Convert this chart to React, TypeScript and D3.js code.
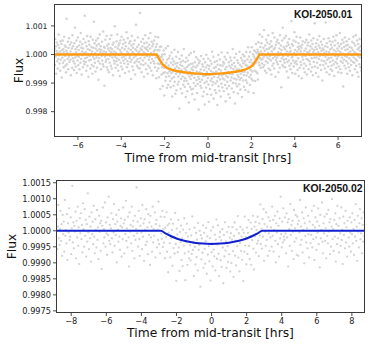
import React from 'react';
import * as d3 from 'd3';

// KOI-2050.01 : transit model (hrs, flux) and residuals of the points (units of 2.6e-5)
const topModelT = [-7.08, -2.38, -2.3, -2.2, -2.1, -2.0, -1.8, -1.5, -1.0, -0.5, 0, 0.5, 1.0, 1.5, 1.8, 2.0, 2.1, 2.2, 2.3, 2.38, 7.08];
const topModelF = [1.0, 1.0, 0.9999, 0.99978, 0.99966, 0.99959, 0.9995, 0.99943, 0.99937, 0.99933, 0.99931, 0.99933, 0.99937, 0.99943, 0.9995, 0.99959, 0.99966, 0.99978, 0.9999, 1.0, 1.0];
const topXTicks = [-6, -4, -2, 0, 2, 4, 6];
const topYTicks = [0.998, 0.999, 1.0, 1.001];
const topResid = [
  8, -14, 21, -3, 11, -26, 5, 16, -9, 2, -19, 13, -6, 27, -1, 9, -12, 4, -22, 18, -7, 1, 14, -31, 6,
  -4, 19, -11, 7, -17, 3, 24, -8, 12, -2, -15, 10, -24, 5, 48, -13, 2, -6, 17, -20, 9, -3, 22, -10, 0,
  13, -7, 4, -28, 16, -1, 8, -18, 26, -5, 11, -9, 1, -21, 15, -12, 36, -4, 7, -16, 3, 19, -25, 10, -2,
  -8, 23, -14, 6, -3, 12, -20, 1, 17, -11, 29, -6, 9, -27, 4, 14, -1, -17, 8, 21, -9, 2, -13, 52, -5,
  16, -10, 3, -22, 11, -4, 25, -15, 7, 0, -30, 18, -8, 13, -2, 6, -19, 24, -7, 1, 10, -14, 4, -26, 20,
  -3, 9, -16, 44, -6, 15, -11, 2, -23, 8, 19, -4, 12, -18, 5, -1, 22, -9, -34, 14, -5, 7, 27, -12, 3,
  11, -20, 6, -2, 17, -8, 1, -13, 31, -16, 4, 10, -42, 9, -3, 20, -10, 3, -7, 25, -17, 12, -1, -21, 8,
  -6, 14, -24, 5, -11, 21, -2, 9, -15, 3, 26, -19, 7, -4, 13, -28, 1, 16, -8, 4, -12, 38, -3, 10, -18,
  2, -9, 18, -5, 27, -14, 8, -22, 12, -1, -7, 15, -29, 6, 19, -11, 3, -16, 24, -4, 9, -20, 1, 14, -8,
  20, -3, -12, 7, -25, 16, -6, 11, -1, 30, -17, 4, -9, 22, -13, 2, 8, -23, 15, -5, -2, 18, -10, 6, -33,
  12, -7, 25, -16, 3, 9, -21, 14, -4, 1, -11, 19, -27, 7, -2, 40, -9, 5, -15, 10, -6, 23, -18, 2, 13,
  -10, 4, -19, 56, -5, 8, -13, 17, -24, 6, -1, 11, -8, 21, -14, 3, -30, 15, -4, 9, 26, -12, 1, -20, 7,
  16, -2, 10, -26, 5, -15, 22, -7, 13, -3, -18, 8, 29, -11, 2, -22, 17, -6, 11, -1, -28, 14, -9, 4, 19,
  -12, 6, -17, 24, -4, 10, -32, 1, 15, -20, 8, -9, 27, -14, 3, -25, 12, -6, 18, -38, 5, -2, 21, -16, 9,
  -5, 13, -29, 7, -11, 20, -3, -40, 16, -8, 2, -19, 25, -13, 6, -1, -27, 11, -7, 30, -22, 4, 14, -10, -3,
  18, -16, 1, -24, 9, -5, 23, -12, -36, 15, -2, 7, -21, 12, -9, 28, -15, 3, -31, 10, -4, 19, -26, 6, -1,
  11, -18, 26, -7, -14, 4, -50, 17, -3, 9, -23, 13, -10, 2, 22, -29, 8, -6, 15, -17, -1, 31, -12, 5, -20,
  -8, 14, -33, 3, 20, -11, 7, -25, -2, 16, -15, 10, -40, 24, -5, 1, -19, 12, -8, 27, -22, 6, -3, -28, 13,
  4, -21, 9, -13, 29, -6, -35, 15, -1, -17, 8, 22, -9, 3, -26, 11, -14, 19, -4, -48, 14, -7, 2, 17, -11,
  -16, 6, 24, -19, 1, -8, 13, -30, 10, -3, 20, -24, 5, -12, -41, 16, -2, 9, -18, 26, -10, 3, -27, 12, -5,
  21, -14, 7, -37, 11, -1, -20, 18, -9, 4, -28, 14, -6, 30, -15, 2, -11, 23, -33, 8, -4, 16, -22, 1, -13,
  9, -26, 3, 17, -10, -42, 12, -5, 25, -17, 6, -2, -23, 19, -8, 11, -31, 4, -14, 28, -3, -19, 10, -7, 15,
  -1, -24, 13, -9, 22, -16, 5, -38, 18, -4, 8, -21, -12, 27, -6, 1, -29, 14, -18, 9, -2, -34, 20, -11, 6,
  16, -7, -22, 10, -3, 31, -15, 4, -27, 12, -9, 19, -43, 7, -1, -16, 24, -11, 3, -20, 15, -5, -30, 11, -8,
  2, -18, 26, -12, 8, -25, -4, 17, -10, 5, -36, 13, -2, 21, -14, 9, -7, -23, 18, -3, 11, -28, 6, -15, 23,
  -9, 4, -19, 12, -6, 28, -32, 1, 15, -13, 7, -24, 20, -4, -11, 9, -17, 25, -8, 3, -21, 14, -2, -39, 10,
  17, -11, 5, -26, 13, -3, 22, -16, 8, -1, -20, 11, -30, 6, 19, -9, 2, -14, 27, -5, 10, -18, 4, -7, 15,
  -12, 24, -6, 1, -17, 9, -3, 33, -14, 5, -22, 12, -1, -9, 20, -25, 7, 16, -4, -11, 2, 26, -19, 8, -6,
  14, -2, -21, 10, -8, 18, -27, 4, 11, -15, 29, -5, 1, -12, 7, -19, 23, -3, 9, -30, 13, -7, 0, 17, -10,
  -4, 20, -13, 3, -24, 15, -1, 8, -18, 26, -9, 2, 12, -44, 6, -5, 19, -14, 36, -2, -16, 10, -7, 22, -11,
  7, -17, 1, 25, -6, 11, -23, 4, -10, 16, -2, -31, 13, -8, 21, -15, 3, 9, -20, 5, -12, 45, -4, 14, -25,
  -3, 12, -8, 19, -16, 2, 30, -11, 6, -26, 17, -1, -9, 24, -13, 4, -21, 10, -5, 15, -29, 7, 1, -18, 11,
  23, -10, 4, -14, 9, -32, 13, -3, 18, -7, 1, -19, 48, -12, 5, -24, 16, -2, 8, -15, 20, -6, -27, 3, 12,
  -7, 16, -20, 2, 27, -9, 5, -13, 11, -1, -23, 19, -5, 8, -17, 14, -28, 3, 22, -10, 6, -4, 42, -16, 1,
  10, -25, 15, -4, 7, -11, 20, -18, 3, -30, 12, -6, 25, -2, 9, -14, 1, 17, -21, 5, -8, 13, -35, 8, -1,
  -14, 6, 21, -9, 2, -19, 11, -3, 43, -12, 4, -24, 15, -7, 10, -1, -16, 22, -5, 3, -27, 18, -10, 7, -20,
  13, -4, -15, 9, -22, 17, -8, 1, 24, -13, 6, -29, 12, -2, 19, -10, 4, -18, 26, -6, -12, 8, -3, 15, -24,
  5, -16, 11, -1, 29, -20, 3, -9, 14, -25, 8, -4, 20, -11, 1, -43, 16, -7, 10, -15, 23, -2, 6, -19, 12,
  -9, 18, -3, -26, 7, 13, -12, 2, -17, 21, -5, 10, -22, 4, 50, -8, -14, 9, -1, 17, -28, 6, -10, 24, -4,
  15, -11, 3, -20, 12, -6, 26, -15, 1, -8, 19, -24, 7, -2, 14, -30, 9, -13, 21, -4, 5, -17, 11, -1, -22,
];

// KOI-2050.02
const botModelT = [-8.84, -2.9, -2.6, -2.3, -2.0, -1.5, -1.0, -0.5, 0, 0.5, 1.0, 1.5, 2.0, 2.3, 2.6, 2.9, 8.72];
const botModelF = [1.0, 1.0, 0.99991, 0.99983, 0.99976, 0.99968, 0.99963, 0.9996, 0.99959, 0.9996, 0.99963, 0.99968, 0.99976, 0.99983, 0.99991, 1.0, 1.0];
const botBand = [0, 0, 0.00003, 0.00003, 0.00002, 0.00001, 0, 0, 0, 0, 0, 0.00001, 0.00002, 0.00003, 0.00003, 0, 0];
const botXTicks = [-8, -6, -4, -2, 0, 2, 4, 6, 8];
const botYTicks = [0.9975, 0.998, 0.9985, 0.999, 0.9995, 1.0, 1.0005, 1.001, 1.0015];
const botResid = [
  14, -22, 5, 31, -9, -17, 2, 24, -12, 8, -30, 19, -4, 11, -25, 37, -6, 1, -15, 20, -35, 9, -2, 27, -11,
  -7, 16, -28, 3, 54, -14, 10, -21, 6, -1, 23, -33, 12, -8, 29, -18, 4, -40, 15, -3, 21, -10, 7, -26, 33,
  2, -19, 26, -6, 13, -31, 8, -13, 45, -2, -22, 17, -9, 5, -37, 22, -4, 11, -16, 30, -7, -27, 14, 1, -20,
  25, -11, 4, -34, 18, -1, 9, -24, 12, -46, 6, 28, -15, 2, -8, 34, -19, 10, -3, -29, 16, -5, 41, -12, 7,
  -16, 3, 21, -9, -26, 14, -2, 32, -18, 8, -5, 19, -38, 11, 1, -13, 25, -7, -23, 6, 15, -31, 4, -10, 28,
  9, -27, 13, -4, 36, -12, 3, -20, 17, -8, -43, 22, -1, 7, -15, 29, -24, 5, 12, -6, -33, 18, -11, 2, 52,
  -3, 11, -19, 24, -10, -30, 6, 15, -2, -22, 31, -7, 9, -36, 14, 1, -17, 26, -13, 4, -28, 20, -5, 10, -41,
  18, -8, 5, -25, 29, -14, 2, -6, 22, -32, 8, 13, -20, 1, -11, 35, -16, 6, -27, 17, -3, -9, 25, -18, 4,
  -12, 19, -30, 7, -4, 26, -21, 11, -45, 3, 14, -9, -26, 20, -2, 8, -35, 16, -13, 1, -19, 30, -7, -51, 12,
  5, -16, 23, -10, -38, 9, -3, 17, -24, 2, -31, 13, -6, 27, -15, -47, 10, -1, 21, -28, 6, -12, -20, 15, -4,
  -22, 8, -14, 31, -9, 1, -40, 18, -5, -26, 12, -17, 4, -33, 24, -8, -2, 15, -52, 10, -19, 6, -11, 22, -29,
  13, -6, -24, 3, 19, -36, 9, -13, 26, -3, -21, 7, -44, 16, -10, 1, -27, 20, -7, -15, 11, -32, 5, 29, -18,
  -1, 22, -12, -39, 8, 14, -20, 4, -28, 17, -5, -48, 10, -16, 25, -9, 2, -30, 13, -4, -23, 19, -14, 6, -35,
  11, -25, 3, 18, -11, -42, 7, 23, -17, 1, -29, 14, -6, 30, -20, 9, -37, -3, 16, -13, 4, -24, 12, -50, 8,
  -15, 27, -8, 2, -31, 13, -19, 6, 21, -10, -26, 1, 17, -34, 9, -5, 24, -16, -41, 10, -2, 15, -22, 5, -12,
  20, -9, -28, 11, -4, 33, -15, 3, -21, 14, -7, 26, -36, 8, -1, -18, 22, -11, 5, -30, 16, -3, -24, 12, -8,
  4, -19, 29, -6, 13, -25, 1, 18, -12, -38, 9, -2, 23, -16, 6, -31, 15, -9, 41, -4, -20, 11, -14, 27, -7,
  -11, 16, -3, -27, 21, -8, 10, -43, 14, 2, -18, 32, -5, 7, -24, 12, -1, -34, 25, -13, 3, 19, -9, -29, 17,
  8, -30, 12, -2, 37, -17, 5, -11, 22, -26, 1, 15, -39, 9, -6, 28, -14, 3, -21, 18, -4, -32, 11, 53, -15,
  -5, 24, -20, 7, -10, 30, -35, 4, 16, -8, -23, 11, -2, 27, -16, 6, -44, 19, -9, 1, 34, -13, -27, 9, -3,
  17, -12, 3, -33, 20, -6, -15, 25, -1, 10, -28, 14, -19, 5, 38, -10, 2, -24, 13, -7, 21, -37, 8, -16, 30,
  -9, 6, -26, 15, -3, -18, 28, -11, 1, -40, 17, -5, 9, -21, 24, -14, 4, -31, 12, 50, -8, -19, 16, -2, -25,
  10, -4, 21, -15, 2, -29, 13, -7, 32, -12, 5, -36, 18, -1, -20, 9, 26, -10, -3, 15, -27, 7, -13, 22, -6,
];

const RESID_UNIT = 0.000026;
const FONT = 'DejaVu Sans, Verdana, sans-serif';

type PanelProps = {
  id: string;
  left: number; right: number; top: number; bottom: number;
  xDomain: [number, number];
  yDomain: [number, number];
  xTicks: number[];
  yTicks: number[];
  yFormat: string;
  tickSize: number;
  yLabelGap: number;
  xTickBase: number;
  xLabelBase: number;
  fluxX: number;
  title: string;
  titleX: number;
  titleY: number;
  titleSize: number;
  modelT: number[];
  modelF: number[];
  resid: number[];
  color: string;
  lineWidth: number;
  band?: number[];
  r: number;
};

function Panel(p: PanelProps) {
  const x = d3.scaleLinear().domain(p.xDomain).range([p.left, p.right]);
  const y = d3.scaleLinear().domain(p.yDomain).range([p.bottom, p.top]);
  const model = d3.scaleLinear().domain(p.modelT).range(p.modelF);

  const n = p.resid.length;
  const span = p.xDomain[1] - p.xDomain[0];
  const pts = p.resid.map((v, i) => {
    const t = p.xDomain[0] + ((i + 0.5) * span) / n;
    return [x(t), y(model(t) + v * RESID_UNIT)];
  });

  const idx = d3.range(p.modelT.length);
  const line = d3.line<number>()
    .x(i => x(p.modelT[i]))
    .y(i => y(p.modelF[i]))
    .curve(d3.curveMonotoneX);
  const area = p.band
    ? d3.area<number>()
        .x(i => x(p.modelT[i]))
        .y0(i => y(p.modelF[i] - p.band![i]))
        .y1(i => y(p.modelF[i] + p.band![i]))
        .curve(d3.curveMonotoneX)
    : null;

  const fy = d3.format(p.yFormat);
  const fx = d3.format('d');

  return (
    <g>
      <defs>
        <clipPath id={p.id}>
          <rect x={p.left} y={p.top} width={p.right - p.left} height={p.bottom - p.top} />
        </clipPath>
      </defs>
      <g clipPath={`url(#${p.id})`}>
        {pts.map((d, i) => (
          <circle key={i} cx={d[0]} cy={d[1]} r={p.r} fill="#d3d3d3" />
        ))}
        {area && <path d={area(idx) || ''} fill="#9db8f2" opacity={0.8} />}
        <path d={line(idx) || ''} fill="none" stroke={p.color} strokeWidth={p.lineWidth} />
      </g>
      <rect x={p.left} y={p.top} width={p.right - p.left} height={p.bottom - p.top}
        fill="none" stroke="#3a3a3a" strokeWidth={1} />
      {p.yTicks.map(v => (
        <g key={v}>
          <line x1={p.left - 3.5} x2={p.left} y1={y(v)} y2={y(v)} stroke="#3a3a3a" strokeWidth={0.9} />
          <text x={p.left - p.yLabelGap} y={y(v)} dy="0.35em" textAnchor="end"
            fontFamily={FONT} fontSize={p.tickSize} fill="#222">{fy(v)}</text>
        </g>
      ))}
      {p.xTicks.map(v => (
        <g key={v}>
          <line x1={x(v)} x2={x(v)} y1={p.bottom} y2={p.bottom + 3.5} stroke="#3a3a3a" strokeWidth={0.9} />
          <text x={x(v)} y={p.xTickBase} textAnchor="middle"
            fontFamily={FONT} fontSize={p.tickSize} fill="#222">{fx(v)}</text>
        </g>
      ))}
      <text x={(p.left + p.right) / 2} y={p.xLabelBase} textAnchor="middle"
        fontFamily={FONT} fontSize={12.3} fill="#111">Time from mid-transit [hrs]</text>
      <text transform={`translate(${p.fluxX},${(p.top + p.bottom) / 2}) rotate(-90)`} textAnchor="middle"
        fontFamily={FONT} fontSize={12.3} fill="#111">Flux</text>
      <text x={p.titleX} y={p.titleY} textAnchor="end" fontFamily="Liberation Sans, Arial, sans-serif"
        fontWeight="bold" fontSize={p.titleSize} fill="#111">{p.title}</text>
    </g>
  );
}

export default function App() {
  return (
    <svg width={374} height={353} style={{ position: 'absolute', left: 0, top: 0, background: '#fff' }}>
      <Panel id="clip-top" left={54.5} right={361.5} top={4.5} bottom={136.5}
        xDomain={[-7.08, 7.08]} yDomain={[0.99713, 1.00175]}
        xTicks={topXTicks} yTicks={topYTicks} yFormat=".3f"
        tickSize={7.7} yLabelGap={7} xTickBase={148} xLabelBase={162.3} fluxX={23.3}
        title="KOI-2050.01" titleX={352.3} titleY={18.3} titleSize={10.2}
        modelT={topModelT} modelF={topModelF} resid={topResid}
        color="#ff9a10" lineWidth={2.4} r={1.25} />
      <Panel id="clip-bot" left={56.5} right={364.5} top={180.5} bottom={312.5}
        xDomain={[-8.84, 8.72]} yDomain={[0.99745, 1.00157]}
        xTicks={botXTicks} yTicks={botYTicks} yFormat=".4f"
        tickSize={8.2} yLabelGap={5.5} xTickBase={323.5} xLabelBase={337.3} fluxX={15.8}
        title="KOI-2050.02" titleX={362.5} titleY={191.7} titleSize={10.4}
        modelT={botModelT} modelF={botModelF} band={botBand} resid={botResid}
        color="#1020d0" lineWidth={2} r={1.15} />
    </svg>
  );
}
